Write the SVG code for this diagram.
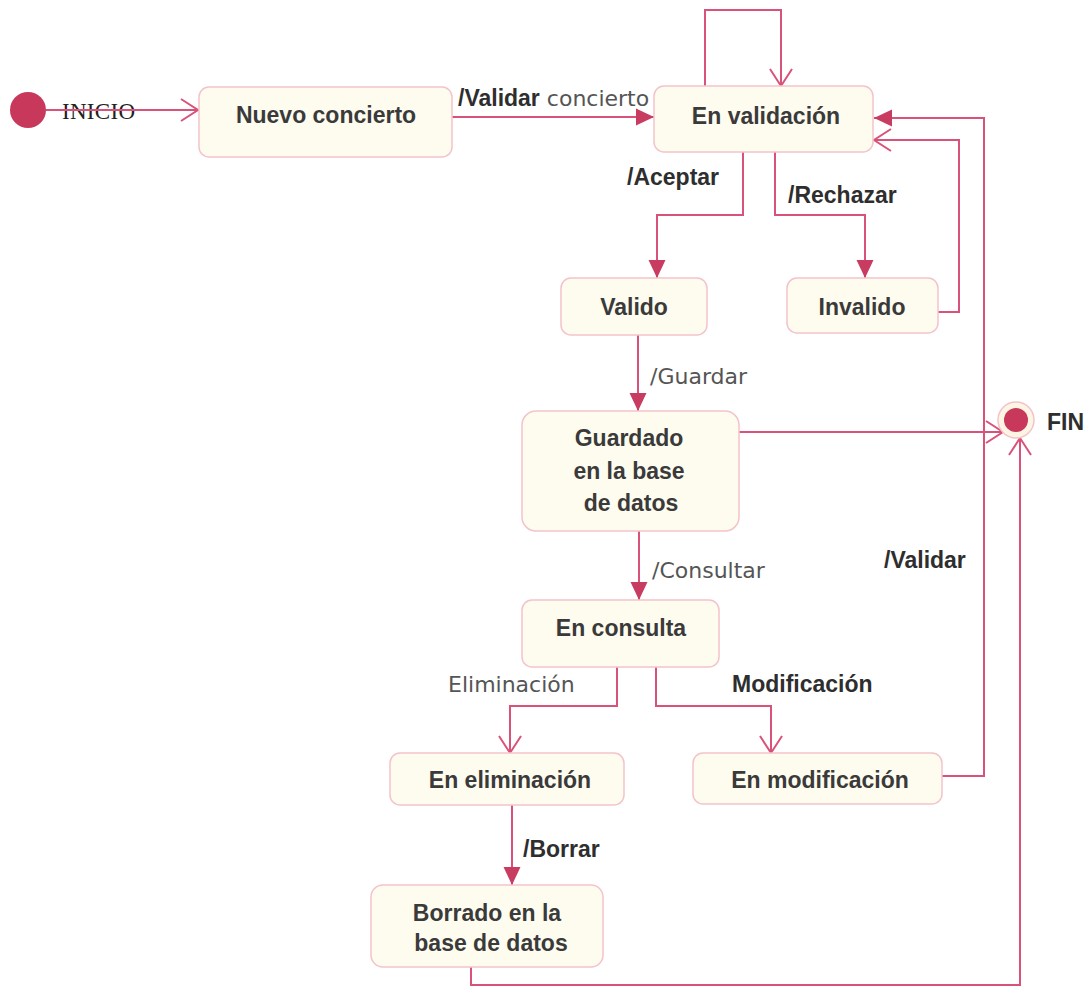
<svg xmlns="http://www.w3.org/2000/svg" width="1092" height="994" viewBox="0 0 1092 994">
<style>
.box{fill:#fefcef;stroke:#f3c3cb;stroke-width:1.5}
.lbl{font-family:"Liberation Sans",Arial,sans-serif;font-weight:bold;font-size:23px;fill:#3a3a3a;text-anchor:middle}
.tb{font-family:"Liberation Sans",Arial,sans-serif;font-weight:bold;font-size:23px;fill:#2e2e2e}
.tr{font-family:"DejaVu Sans",Verdana,sans-serif;font-size:22px;fill:#555}
.c{fill:none;stroke:#d9527a;stroke-width:2}
.f{marker-end:url(#fill)}
.o{marker-end:url(#open)}
</style>
<defs>
<marker id="fill" markerUnits="userSpaceOnUse" markerWidth="20" markerHeight="20" viewBox="0 0 20 20" refX="18" refY="10" orient="auto">
<path d="M0,1.5 L18,10 L0,18.5 Z" fill="#c93c62"/>
</marker>
<marker id="open" markerUnits="userSpaceOnUse" markerWidth="22" markerHeight="26" viewBox="0 0 22 26" refX="19" refY="13" orient="auto">
<path d="M2,2 L19,13 L2,24" fill="none" stroke="#d9527a" stroke-width="2"/>
</marker>
</defs>
<g id="connectors">
<path class="c o" d="M46,110 H198"/>
<path class="c f" d="M452,117 H654"/>
<path class="c o" d="M705,86 V10 H781 V86"/>
<path class="c f" d="M743,152 V215 H657 V278"/>
<path class="c f" d="M775,152 V215 H865 V278"/>
<path class="c o" d="M938,312 H959 V140 H874"/>
<path class="c f" d="M638,335 V411"/>
<path class="c o" d="M739,432 H1003"/>
<path class="c f" d="M639,531 V600"/>
<path class="c o" d="M617,667 V706 H510 V753"/>
<path class="c o" d="M656,667 V706 H771 V753"/>
<path class="c f" d="M942,776 H984 V118 H874"/>
<path class="c f" d="M512,805 V885"/>
<path class="c o" d="M471,967 V985 H1020 V438"/>
<text class="tb" x="458" y="106">/Validar<tspan class="tr" font-weight="normal"> concierto</tspan></text>
<text class="tb" x="627" y="185">/Aceptar</text>
<text class="tb" x="788" y="203">/Rechazar</text>
<text class="tr" x="650" y="384">/Guardar</text>
<text class="tr" x="652" y="578">/Consultar</text>
<text class="tb" x="884" y="568">/Validar</text>
<text class="tr" x="448" y="692">Eliminación</text>
<text class="tb" x="732" y="692">Modificación</text>
<text class="tb" x="523" y="857">/Borrar</text>
</g>
<g id="inicio">
<circle cx="28" cy="110" r="18" fill="#c8385a"/>
<text x="62" y="119" font-family="Liberation Serif,serif" font-size="23" fill="#222" textLength="73">INICIO</text>
<line x1="46" y1="110" x2="140" y2="110" stroke="#d9527a" stroke-width="2"/>
</g>
<g id="nuevo">
<rect class="box" x="199" y="87" width="253" height="70" rx="10"/>
<text class="lbl" x="326" y="123">Nuevo concierto</text>
</g>
<g id="validacion">
<rect class="box" x="654" y="86" width="219" height="66" rx="10"/>
<text class="lbl" x="766" y="124">En validación</text>
</g>
<g id="valido">
<rect class="box" x="561" y="278" width="146" height="57" rx="10"/>
<text class="lbl" x="634" y="315">Valido</text>
</g>
<g id="invalido">
<rect class="box" x="787" y="278" width="151" height="55" rx="10"/>
<text class="lbl" x="862" y="315">Invalido</text>
</g>
<g id="guardado">
<rect class="box" x="522" y="411" width="217" height="120" rx="14"/>
<text class="lbl" x="629" y="446">Guardado</text>
<text class="lbl" x="629" y="479">en la base</text>
<text class="lbl" x="631" y="511">de datos</text>
</g>
<g id="fin">
<circle cx="1016" cy="420" r="18" fill="#fdf5e4" stroke="#f3c3cb" stroke-width="1.5"/>
<circle cx="1016" cy="420" r="12" fill="#c8385a"/>
<text class="tb" x="1047" y="430">FIN</text>
</g>
<g id="consulta">
<rect class="box" x="522" y="600" width="197" height="67" rx="10"/>
<text class="lbl" x="621" y="636">En consulta</text>
</g>
<g id="eliminacion">
<rect class="box" x="390" y="753" width="234" height="52" rx="10"/>
<text class="lbl" x="510" y="788">En eliminación</text>
</g>
<g id="modificacion">
<rect class="box" x="693" y="753" width="249" height="51" rx="10"/>
<text class="lbl" x="820" y="788">En modificación</text>
</g>
<g id="borrado">
<rect class="box" x="371" y="885" width="232" height="82" rx="12"/>
<text class="lbl" x="487" y="921">Borrado en la</text>
<text class="lbl" x="491" y="951">base de datos</text>
</g>
</svg>
